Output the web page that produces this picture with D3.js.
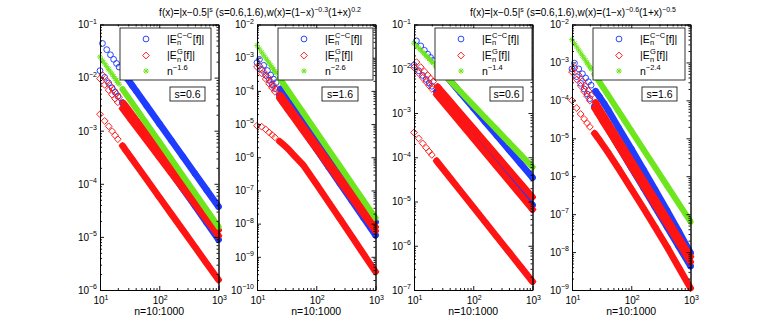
<!DOCTYPE html>
<html><head><meta charset="utf-8">
<script src="https://cdnjs.cloudflare.com/ajax/libs/d3/7.8.5/d3.min.js"></script>
<style>
body{margin:0;background:#fff}
svg{display:block}
text{font-family:"Liberation Sans",Arial,Helvetica,sans-serif;fill:#000}
</style></head>
<body><svg id="c" width="763" height="327"></svg>
<script>
// ---- sample points of n (n = 10:1000) ----
const nEven = [10,12,14,16,18,20,24,28,34,40,60,100,160,250,400,630,1000];
const nOdd  = [11,13,15,17,19,21,25,29,35,41,61,101,161,251,401,631,999];
const nAll  = [10,11,12,13,14,15,16,17,18,19,20,21,24,28,34,40,60,100,160,250,400,630,1000];

// ---- panel 1: s=0.6, w=(1-x)^-0.3(1+x)^0.2 ----
const p1CCodd  = [4.4e-2,3.36e-2,2.69e-2,2.21e-2,1.85e-2,1.58e-2,1.21e-2,9.55e-3,7.11e-3,5.55e-3,2.98e-3,1.35e-3,6.50e-4,3.24e-4,1.55e-4,7.64e-5,3.72e-5];
const p1CCeven = [1.35e-2,1.01e-2,7.91e-3,6.38e-3,5.30e-3,4.48e-3,3.35e-3,2.62e-3,1.93e-3,1.49e-3,7.82e-4,3.47e-4,1.64e-4,8.07e-5,3.83e-5,1.86e-5,8.91e-6];
const p1Godd   = [1.12e-2,8.75e-3,7.06e-3,5.86e-3,4.97e-3,4.28e-3,3.30e-3,2.64e-3,2.0e-3,1.58e-3,8.73e-4,4.11e-4,2.05e-4,1.06e-4,5.27e-5,2.68e-5,1.35e-5];
const p1Geven  = [9.55e-3,7.29e-3,5.81e-3,4.76e-3,4.0e-3,3.43e-3,2.61e-3,2.08e-3,1.56e-3,1.23e-3,6.73e-4,3.16e-4,1.58e-4,8.15e-5,4.06e-5,2.07e-5,1.05e-5];
const p1Glow   = [2.04e-3,1.53e-3,1.21e-3,9.82e-4,8.17e-4,6.92e-4,5.21e-4,4.09e-4,3.03e-4,2.35e-4,1.25e-4,5.62e-5,2.70e-5,1.35e-5,6.47e-6,3.18e-6,1.55e-6];
const p1Rate   = [2.45e-2,2.11e-2,1.83e-2,1.61e-2,1.43e-2,1.28e-2,1.16e-2,1.05e-2,9.59e-3,8.79e-3,8.10e-3,7.49e-3,6.05e-3,4.72e-3,3.47e-3,2.67e-3,1.40e-3,6.17e-4,2.90e-4,1.42e-4,6.71e-5,3.24e-5,1.55e-5];

// ---- panel 2: s=1.6, w=(1-x)^-0.3(1+x)^0.2 ----
const p2CCodd  = [8.91e-4,5.87e-4,4.10e-4,3.0e-4,2.27e-4,1.77e-4,1.14e-4,7.87e-5,4.92e-5,3.31e-5,1.22e-5,3.47e-6,1.08e-6,3.55e-7,1.10e-7,3.53e-8,1.12e-8];
const p2CCeven = [7.08e-4,4.41e-4,2.95e-4,2.08e-4,1.53e-4,1.17e-4,7.26e-5,4.86e-5,2.94e-5,1.93e-5,6.71e-6,1.78e-6,5.24e-7,1.64e-7,4.84e-8,1.49e-8,4.47e-9];
const p2Godd   = [5.62e-4,3.72e-4,2.61e-4,1.91e-4,1.45e-4,1.13e-4,7.36e-5,5.09e-5,3.20e-5,2.16e-5,8.07e-6,2.32e-6,7.29e-7,2.43e-7,7.62e-8,2.48e-8,7.93e-9];
const p2Geven  = [5.25e-4,3.34e-4,2.29e-4,1.64e-4,1.23e-4,9.48e-5,6.04e-5,4.12e-5,2.55e-5,1.71e-5,6.28e-6,1.78e-6,5.57e-7,1.85e-7,5.79e-8,1.89e-8,6.03e-9];
const p2Glow   = [8.91e-6,8.32e-6,6.92e-6,5.62e-6,4.68e-6,3.98e-6,3.02e-6,2.40e-6,1.74e-6,1.26e-6,5.89e-7,1.58e-7,4.57e-8,1.41e-8,4.07e-9,1.20e-9,3.55e-10];
const p2Rate   = [2.34e-3,1.83e-3,1.46e-3,1.19e-3,9.77e-4,8.17e-4,6.90e-4,5.90e-4,5.08e-4,4.42e-4,3.86e-4,3.40e-4,2.40e-4,1.61e-4,9.72e-5,6.38e-5,2.22e-5,5.89e-6,1.73e-6,5.43e-7,1.60e-7,4.92e-8,1.48e-8];

// ---- panel 3: s=0.6, w=(1-x)^-0.6(1+x)^-0.5 ----
const p3CCodd  = [4.27e-2,3.28e-2,2.61e-2,2.15e-2,1.80e-2,1.54e-2,1.17e-2,9.25e-3,6.87e-3,5.35e-3,2.86e-3,1.29e-3,6.18e-4,3.07e-4,1.47e-4,7.16e-5,3.47e-5];
const p3CCeven = [1.20e-2,9.02e-3,7.06e-3,5.73e-3,4.75e-3,4.02e-3,3.01e-3,2.36e-3,1.74e-3,1.35e-3,7.08e-4,3.16e-4,1.51e-4,7.43e-5,3.54e-5,1.73e-5,8.32e-6];
const p3Godd   = [1.41e-2,1.09e-2,8.71e-3,7.18e-3,6.03e-3,5.16e-3,3.94e-3,3.12e-3,2.33e-3,1.82e-3,9.79e-4,4.47e-4,2.16e-4,1.08e-4,5.21e-5,2.57e-5,1.26e-5];
const p3Geven  = [1.07e-2,8.0e-3,6.25e-3,5.04e-3,4.17e-3,3.52e-3,2.63e-3,2.05e-3,1.50e-3,1.16e-3,6.04e-4,2.66e-4,1.25e-4,6.11e-5,2.88e-5,1.39e-5,6.61e-6];
const p3Glow   = [3.63e-4,2.67e-4,2.06e-4,1.64e-4,1.35e-4,1.13e-4,8.30e-5,6.40e-5,4.61e-5,3.51e-5,1.77e-5,7.50e-6,3.40e-6,1.60e-6,7.26e-7,3.37e-7,1.55e-7];
const p3Rate   = [3.80e-2,3.33e-2,2.94e-2,2.64e-2,2.37e-2,2.15e-2,1.97e-2,1.81e-2,1.67e-2,1.55e-2,1.44e-2,1.35e-2,1.12e-2,8.99e-3,6.85e-3,5.46e-3,3.10e-3,1.51e-3,7.83e-4,4.20e-4,2.17e-4,1.15e-4,6.03e-5];

// ---- panel 4: s=1.6, w=(1-x)^-0.6(1+x)^-0.5 ----
const p4CCodd  = [9.55e-4,6.76e-4,5.01e-4,3.89e-4,3.09e-4,2.51e-4,1.74e-4,1.26e-4,8.13e-5,5.50e-5,1.91e-5,5.13e-6,1.48e-6,4.47e-7,1.26e-7,3.55e-8,9.55e-9];
const p4CCeven = [6.76e-4,4.21e-4,2.82e-4,1.99e-4,1.47e-4,1.11e-4,6.93e-5,4.65e-5,2.81e-5,1.84e-5,6.41e-6,1.70e-6,5.0e-7,1.57e-7,4.62e-8,1.42e-8,4.27e-9];
const p4Godd   = [7.08e-4,4.63e-4,3.22e-4,2.34e-4,1.77e-4,1.37e-4,8.81e-5,6.05e-5,3.75e-5,2.51e-5,9.16e-6,2.55e-6,7.80e-7,2.53e-7,7.69e-8,2.44e-8,7.59e-9];
const p4Geven  = [5.62e-4,3.56e-4,2.42e-4,1.73e-4,1.29e-4,9.91e-5,6.28e-5,4.27e-5,2.62e-5,1.75e-5,6.32e-6,1.76e-6,5.42e-7,1.77e-7,5.46e-8,1.75e-8,5.50e-9];
const p4Glow   = [1.0e-4,6.31e-5,4.37e-5,3.24e-5,2.51e-5,2.0e-5,1.35e-5,9.77e-6,6.31e-6,4.37e-6,1.66e-6,4.68e-7,1.45e-7,4.68e-8,1.38e-8,3.98e-9,1.12e-9];
const p4Rate   = [3.98e-3,3.17e-3,2.57e-3,2.12e-3,1.77e-3,1.50e-3,1.29e-3,1.11e-3,9.70e-4,8.53e-4,7.55e-4,6.71e-4,4.88e-4,3.37e-4,2.11e-4,1.43e-4,5.40e-5,1.58e-5,5.13e-6,1.76e-6,5.69e-7,1.91e-7,6.31e-8];

// ---- text ----
const xTickExps = [1,2,3];
const rateLabels = ["−1.6","−2.6","−1.4","−2.4"];
const sLabels = ["s=0.6","s=1.6","s=0.6","s=1.6"];
const yExpRanges = [[-6,-1],[-10,-2],[-7,-1],[-9,-2]];
const titles = [
  {x:260, parts:[["f(x)=|x−0.5|",0],["s",1],[" (s=0.6,1.6),w(x)=(1−x)",0],["−0.3",1],["(1+x)",0],["0.2",1]]},
  {x:573, parts:[["f(x)=|x−0.5|",0],["s",1],[" (s=0.6,1.6),w(x)=(1−x)",0],["−0.6",1],["(1+x)",0],["−0.5",1]]}
];

const COL = {cc:"#1f3cff", g:"#ff1414", rate:"#6ee61e"};
const svg = d3.select("#c");
const TOP = 24.5, BOT = 290, PW = 118.5;
const lefts = [100, 257, 414, 572];
const legBoxes = [[120,28,91,52],[278,28,95,52],[435,28,97,52],[593,28,92,52]];
const sBoxes = [[170,87,35,14],[322,87,36,14],[490,87,33,14],[642,87,35,14]];

const seriesSets = [
  [[nOdd,p1CCodd,"cc"],[nEven,p1CCeven,"cc"],[nOdd,p1Godd,"g"],[nEven,p1Geven,"g"],[nEven,p1Glow,"g"],[nAll,p1Rate,"rate"]],
  [[nOdd,p2CCodd,"cc"],[nEven,p2CCeven,"cc"],[nOdd,p2Godd,"g"],[nEven,p2Geven,"g"],[nEven,p2Glow,"g"],[nAll,p2Rate,"rate"]],
  [[nOdd,p3CCodd,"cc"],[nEven,p3CCeven,"cc"],[nOdd,p3Godd,"g"],[nEven,p3Geven,"g"],[nEven,p3Glow,"g"],[nAll,p3Rate,"rate"]],
  [[nOdd,p4CCodd,"cc"],[nEven,p4CCeven,"cc"],[nOdd,p4Godd,"g"],[nEven,p4Geven,"g"],[nEven,p4Glow,"g"],[nAll,p4Rate,"rate"]]
];

function marker(sel, kind, cx, cy){
  if(kind==="cc"){
    sel.append("circle").attr("cx",cx).attr("cy",cy).attr("r",2.9)
      .attr("fill","none").attr("stroke",COL.cc).attr("stroke-width",0.95);
  } else if(kind==="g"){
    const r=3.4;
    sel.append("path").attr("d",`M${cx},${cy-r}L${cx+r},${cy}L${cx},${cy+r}L${cx-r},${cy}Z`)
      .attr("fill","none").attr("stroke",COL.g).attr("stroke-width",0.95);
  } else {
    const r=2.9, q=2.05;
    sel.append("path").attr("d",`M${cx-r},${cy}L${cx+r},${cy}M${cx},${cy-r}L${cx},${cy+r}M${cx-q},${cy-q}L${cx+q},${cy+q}M${cx-q},${cy+q}L${cx+q},${cy-q}`)
      .attr("fill","none").attr("stroke",COL.rate).attr("stroke-width",1);
  }
}

function supText(g, x, y, base, sup, anchor, fs, sfs){
  const t = g.append("text").attr("x",x).attr("y",y).attr("text-anchor",anchor).style("font-size",fs+"px");
  t.append("tspan").text(base);
  t.append("tspan").attr("dy",-4.5).style("font-size",sfs+"px").text(sup);
  return t;
}

seriesSets.forEach((sets, pi)=>{
  const left = lefts[pi];
  const [eLo, eHi] = yExpRanges[pi];
  const x = d3.scaleLog().domain([10,1000]).range([left, left+PW]);
  const y = d3.scaleLog().domain([Math.pow(10,eLo), Math.pow(10,eHi)]).range([BOT, TOP]);
  const g = svg.append("g");
  const line = d3.line().x(d=>x(d[0])).y(d=>y(d[1]));

  ["cc","g","rate"].forEach(kind=>{
    sets.filter(s=>s[2]===kind).forEach(([ns, vs])=>{
      const pts = ns.map((n,i)=>[n, vs[i]]);
      const band = pts.filter(d=>d[0]>=24);
      g.append("path").attr("d", line(band)).attr("fill","none")
        .attr("stroke",COL[kind]).attr("stroke-width", kind==="rate"?6:6.6)
        .attr("stroke-linecap","round");
      pts.forEach(d=>marker(g, kind, x(d[0]), y(d[1])));
    });
  });

  // axes (box with inward ticks)
  const majY = d3.range(eLo, eHi+1).map(e=>Math.pow(10,e));
  const minY = [];
  for(let e=eLo; e<eHi; e++) for(let k=2;k<=9;k++) minY.push(k*Math.pow(10,e));
  const majX = xTickExps.map(e=>Math.pow(10,e));
  const minX = [];
  for(let e=1;e<3;e++) for(let k=2;k<=9;k++) minX.push(k*Math.pow(10,e));
  const ax = svg.append("g").attr("stroke-width",0.9);
  const mk = (axisFn, scale, vals, size, tx, ty)=>{
    ax.append("g").attr("transform",`translate(${tx},${ty})`)
      .call(axisFn(scale).tickValues(vals).tickSizeInner(size).tickSizeOuter(0).tickFormat(""))
      .call(s=>s.selectAll("line").attr("stroke","#000"))
      .call(s=>s.select(".domain").attr("stroke","#000"));
  };
  mk(d3.axisLeft, y, majY, -4, left, 0);
  mk(d3.axisLeft, y, minY, -2, left, 0);
  mk(d3.axisRight, y, majY, -4, left+PW, 0);
  mk(d3.axisRight, y, minY, -2, left+PW, 0);
  mk(d3.axisBottom, x, majX, -4, 0, BOT);
  mk(d3.axisBottom, x, minX, -2, 0, BOT);
  mk(d3.axisTop, x, majX, -4, 0, TOP);
  mk(d3.axisTop, x, minX, -2, 0, TOP);

  // tick labels
  d3.range(eLo, eHi+1).forEach(e=>{
    supText(svg, left-3, y(Math.pow(10,e))+3.8, "10", "−"+Math.abs(e), "end", 10, 7);
  });
  xTickExps.forEach(e=>{
    supText(svg, x(Math.pow(10,e))+1, 304, "10", String(e), "middle", 10, 7);
  });
  svg.append("text").attr("x", left+PW/2).attr("y",314.5).attr("text-anchor","middle")
    .style("font-size","10.5px").text("n=10:1000");

  // legend
  const [bx,by,bw,bh] = legBoxes[pi];
  svg.append("rect").attr("x",bx).attr("y",by).attr("width",bw).attr("height",bh)
    .attr("fill","#fff").attr("stroke","#000").attr("stroke-width",0.8);
  const rows = [39,55.5,71];
  const mx = bx+26, tx0 = bx+47;
  marker(svg,"cc",mx,rows[0]); marker(svg,"g",mx,rows[1]); marker(svg,"rate",mx,rows[2]);
  [["C−C"],["G"]].forEach((sup,ri)=>{
    const ry = rows[ri]+3.6;
    const t1 = svg.append("text").attr("x",tx0).attr("y",ry).style("font-size","10.5px").text("|E");
    const w1 = t1.node().getComputedTextLength();
    const ts = svg.append("text").attr("x",tx0+w1+0.3).attr("y",ry+2.8).style("font-size","7.5px").text("n");
    const tp = svg.append("text").attr("x",tx0+w1+0.3).attr("y",ry-5).style("font-size","7.5px").text(sup[0]);
    const w2 = Math.max(ts.node().getComputedTextLength(), tp.node().getComputedTextLength());
    svg.append("text").attr("x",tx0+w1+w2+0.8).attr("y",ry).style("font-size","10.5px").text("[f]|");
  });
  supText(svg, tx0, rows[2]+3.6, "n", rateLabels[pi], "start", 10.5, 7.5);

  // s box
  const [sx,sy,sw,sh] = sBoxes[pi];
  svg.append("rect").attr("x",sx).attr("y",sy).attr("width",sw).attr("height",sh)
    .attr("fill","#fff").attr("stroke","#000").attr("stroke-width",0.8);
  svg.append("text").attr("x",sx+sw/2).attr("y",sy+sh/2+3.7).attr("text-anchor","middle")
    .style("font-size","10.5px").text(sLabels[pi]);
});

// titles
titles.forEach(tt=>{
  const t = svg.append("text").attr("x",tt.x).attr("y",16).attr("text-anchor","middle").style("font-size","10px");
  let up = false;
  tt.parts.forEach(([s,sup])=>{
    const sp = t.append("tspan").text(s);
    if(sup && !up){ sp.attr("dy",-4.5).style("font-size","7px"); up=true; }
    else if(!sup && up){ sp.attr("dy",4.5); up=false; }
    else if(sup) sp.style("font-size","7px");
  });
});
</script>
</body></html>
